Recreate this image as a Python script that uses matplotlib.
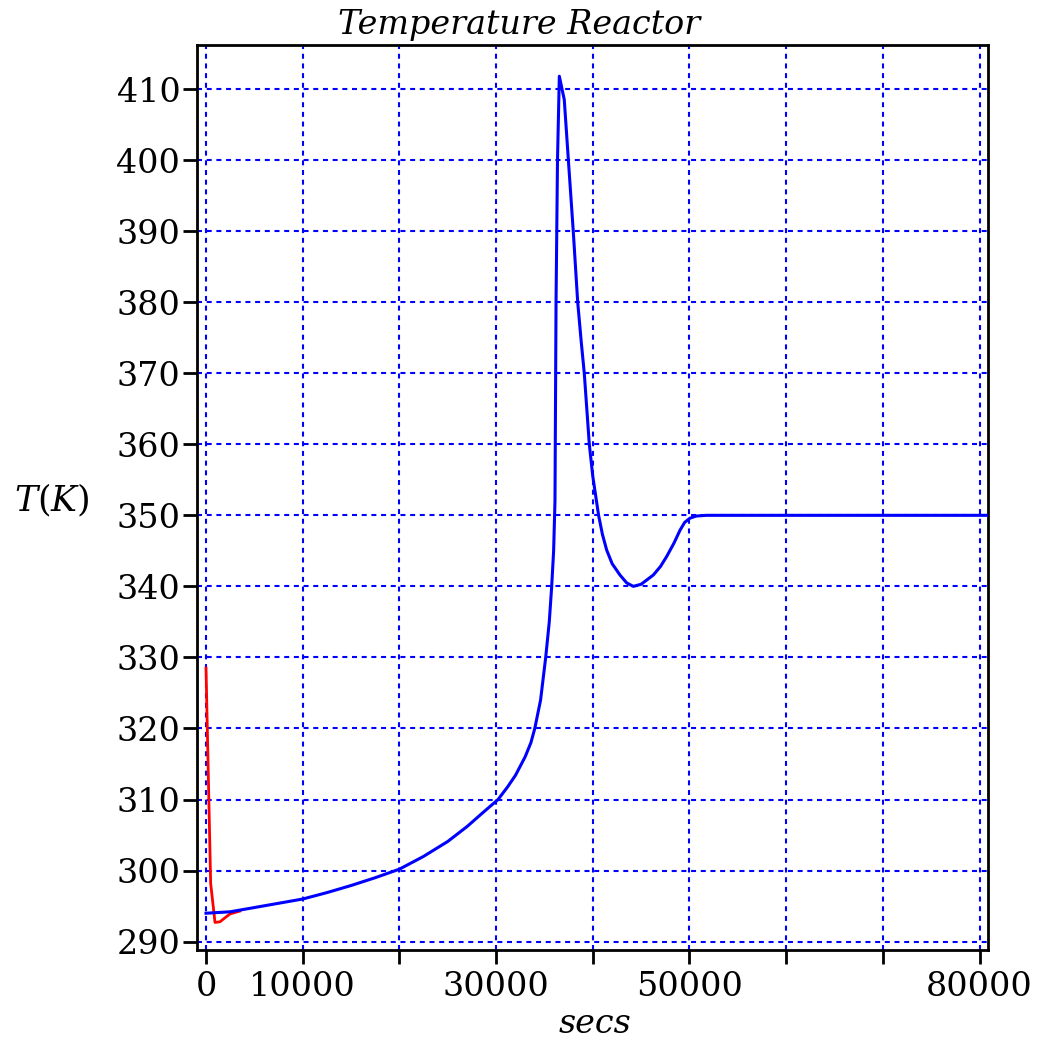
import numpy as np
import matplotlib
matplotlib.use("Agg")
import matplotlib.pyplot as plt

plt.rcParams['font.family'] = 'DejaVu Serif'
plt.rcParams['mathtext.fontset'] = 'dejavuserif'

# start-up transient (red)
t_red = [0, 480, 930, 1450, 2000, 2480, 3500]
T_red = [328.5, 298.2, 292.7, 292.8, 293.4, 293.9, 294.3]

# reactor temperature (blue)
t_blue = [0, 2480, 5000, 7500, 10000, 12500, 15000, 17500, 20000, 22500,
          25000, 27000, 28500, 30200, 31200, 32000, 33000, 33600, 34000,
          34600, 35130, 35500, 35750, 35950, 36090, 36200, 36350, 36540,
          37050, 37500, 37980, 38440, 38800, 39120, 39640, 40000, 40600,
          41000, 41440, 42000, 42810, 43500, 44190, 45000, 46260, 47000,
          47640, 48400, 49020, 49500, 50050, 50700, 51780, 60000, 70000, 80870]
T_blue = [294.0, 294.2, 294.8, 295.4, 296.0, 296.9, 297.9, 299.0, 300.2, 302.0,
          304.1, 306.2, 308.0, 310.0, 311.8, 313.4, 316.0, 318.0, 320.0,
          324.0, 330.0, 335.0, 340.0, 345.0, 352.0, 380.0, 400.0, 411.8,
          408.5, 399.5, 390.0, 380.0, 374.5, 370.0, 360.0, 355.5, 350.0,
          347.3, 345.1, 343.2, 341.6, 340.5, 340.0, 340.3, 341.6, 342.8,
          344.2, 346.1, 347.9, 349.0, 349.6, 349.9, 350.0, 350.0, 350.0, 350.0]

x_ticks = [0, 10000, 20000, 30000, 40000, 50000, 60000, 70000, 80000]
x_labels = ['0', '10000', '', '30000', '', '50000', '', '', '80000']
y_ticks = list(range(290, 411, 10))

fig = plt.figure(figsize=(10.38, 10.43), dpi=100)
ax = fig.add_axes([0.1898, 0.0892, 0.762, 0.8677])

ax.plot(t_red, T_red, color='red', lw=2.0, zorder=3)
ax.plot(t_blue, T_blue, color='blue', lw=2.2, zorder=4)

ax.set_xlim(-931, 80870)
ax.set_ylim(288.83, 416.2)
ax.set_xticks(x_ticks)
ax.set_xticklabels(x_labels)
ax.set_yticks(y_ticks)

ax.grid(True, color='blue', lw=1.5, linestyle=(0, (2.4, 2.25)))
ax.tick_params(labelsize=24, width=2, length=10, color='black')
ax.tick_params(axis='x', pad=5)
ax.tick_params(axis='y', pad=2)
for s in ax.spines.values():
    s.set_linewidth(2)

fig.text(0.5, 0.976, 'Temperature Reactor', ha='center', va='center',
         fontsize=24, style='italic')
fig.text(0.5735, 0.018, 'secs', ha='center', va='center', fontsize=24,
         style='italic')
fig.text(0.05, 0.52, '$T(K)$', ha='center', va='center', fontsize=25)

fig.savefig('out.png', dpi=100)
